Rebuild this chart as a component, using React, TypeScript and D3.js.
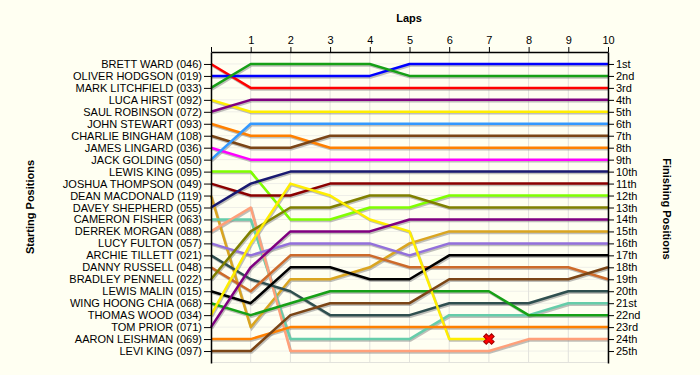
import React, { useEffect, useRef } from 'react';
import * as d3 from 'd3';

const width = 700;
const height = 375;

// laps along the top axis (0 = grid)
const laps = [0, 1, 2, 3, 4, 5, 6, 7, 8, 9, 10];

// drivers in starting order
const drivers = [
  'BRETT WARD (046)', 'OLIVER HODGSON (019)', 'MARK LITCHFIELD (033)', 'LUCA HIRST (092)',
  'SAUL ROBINSON (072)', 'JOHN STEWART (093)', 'CHARLIE BINGHAM (108)', 'JAMES LINGARD (036)',
  'JACK GOLDING (050)', 'LEWIS KING (095)', 'JOSHUA THOMPSON (049)', 'DEAN MACDONALD (119)',
  'DAVEY SHEPHERD (055)', 'CAMERON FISHER (063)', 'DERREK MORGAN (088)', 'LUCY FULTON (057)',
  'ARCHIE TILLETT (021)', 'DANNY RUSSELL (048)', 'BRADLEY PENNELL (022)', 'LEWIS MALIN (015)',
  'WING HOONG CHIA (068)', 'THOMAS WOOD (034)', 'TOM PRIOR (071)', 'AARON LEISHMAN (069)',
  'LEVI KING (097)'
];

// position of each driver at the end of every lap (index 0 = start)
const positions = [
  [1, 3, 3, 3, 3, 3, 3, 3, 3, 3, 3],
  [2, 2, 2, 2, 2, 1, 1, 1, 1, 1, 1],
  [3, 1, 1, 1, 1, 2, 2, 2, 2, 2, 2],
  [4, 5, 5, 5, 5, 5, 5, 5, 5, 5, 5],
  [5, 4, 4, 4, 4, 4, 4, 4, 4, 4, 4],
  [6, 7, 7, 8, 8, 8, 8, 8, 8, 8, 8],
  [7, 8, 8, 7, 7, 7, 7, 7, 7, 7, 7],
  [8, 9, 9, 9, 9, 9, 9, 9, 9, 9, 9],
  [9, 6, 6, 6, 6, 6, 6, 6, 6, 6, 6],
  [10, 10, 14, 14, 13, 13, 12, 12, 12, 12, 12],
  [11, 12, 12, 11, 11, 11, 11, 11, 11, 11, 11],
  [12, 23, 19, 19, 18, 16, 15, 15, 15, 15, 15],
  [13, 11, 10, 10, 10, 10, 10, 10, 10, 10, 10],
  [14, 14, 24, 24, 24, 24, 22, 22, 22, 21, 21],
  [15, 13, 25, 25, 25, 25, 25, 25, 24, 24, 24],
  [16, 17, 16, 16, 16, 17, 16, 16, 16, 16, 16],
  [17, 19, 20, 22, 22, 22, 21, 21, 21, 20, 20],
  [18, 20, 17, 17, 17, 18, 18, 18, 18, 18, 19],
  [19, 15, 13, 13, 12, 12, 13, 13, 13, 13, 13],
  [20, 21, 18, 18, 19, 19, 17, 17, 17, 17, 17],
  [21, 22, 21, 20, 20, 20, 20, 20, 22, 22, 22],
  [22, 16, 11, 12, 14, 15, 24, 24],
  [23, 18, 15, 15, 15, 14, 14, 14, 14, 14, 14],
  [24, 24, 23, 23, 23, 23, 23, 23, 23, 23, 23],
  [25, 25, 22, 21, 21, 21, 19, 19, 19, 19, 18]
];

const finishLabels = [
  '1st', '2nd', '3rd', '4th', '5th', '6th', '7th', '8th', '9th', '10th', '11th', '12th', '13th',
  '14th', '15th', '16th', '17th', '18th', '19th', '20th', '21st', '22nd', '23rd', '24th', '25th'
];

const colors = [
  '#ff0000', '#0000ff', '#16a016', '#ffee00', '#800080', '#ff8000', '#7b4515', '#ff00ff',
  '#3399ff', '#80ff00', '#8b0000', '#daa520', '#191970', '#66cdaa', '#ffa07a', '#9370db',
  '#2f4f4f', '#cd6a2a', '#808000', '#000000', '#16a016', '#ffee00', '#800080', '#ff8000',
  '#7b4515'
];

const font = '"Liberation Sans", Arial, sans-serif';

export default function App() {
  const ref = useRef<SVGSVGElement>(null);

  useEffect(() => {
    const svg = d3.select(ref.current);
    svg.selectAll('*').remove();

    const x = d3.scaleLinear().domain([0, 10]).range([211, 608]);
    const y = d3.scaleLinear().domain([0, 26]).range([52, 363]);
    const ranks = d3.range(1, drivers.length + 1);

    svg.append('rect').attr('width', width).attr('height', height).attr('fill', '#fffff2');

    // grid
    const grid = svg.append('g');
    grid.selectAll('.hg').data(ranks).enter().append('line')
      .attr('x1', x(0)).attr('x2', x(10))
      .attr('y1', (d) => y(d)).attr('y2', (d) => y(d))
      .attr('stroke', '#efefe8').attr('stroke-width', 1);
    grid.selectAll('.vg').data(laps.slice(1)).enter().append('line')
      .attr('x1', (d) => x(d)).attr('x2', (d) => x(d))
      .attr('y1', y(0)).attr('y2', y(26))
      .attr('stroke', '#e2e2dc').attr('stroke-width', 1);
    grid.append('line')
      .attr('x1', x(0)).attr('x2', x(10)).attr('y1', y(26) - 0.5).attr('y2', y(26) - 0.5)
      .attr('stroke', '#e2e2dc');

    const line = d3.line<number>().x((d, i) => x(laps[i])).y((d) => y(d));

    // shadows
    svg.append('g').selectAll('path').data(positions).enter().append('path')
      .attr('d', (d) => line(d))
      .attr('transform', 'translate(1,1.5)')
      .attr('fill', 'none')
      .attr('stroke', '#8a8a8a')
      .attr('stroke-opacity', 0.55)
      .attr('stroke-width', 2.5);

    svg.append('g').selectAll('path').data(positions).enter().append('path')
      .attr('d', (d) => line(d))
      .attr('fill', 'none')
      .attr('stroke', (d, i) => colors[i])
      .attr('stroke-width', 2.5)
      .attr('stroke-linejoin', 'round');

    // retirement marker
    positions.forEach((p, i) => {
      if (p.length < laps.length) {
        const last = p.length - 1;
        svg.append('path')
          .attr('d', d3.symbol().type(d3.symbolCross).size(70)())
          .attr('transform', `translate(${x(laps[last])},${y(p[last])}) rotate(45)`)
          .attr('fill', '#ff0000')
          .attr('stroke', '#a00000')
          .attr('stroke-width', 1);
      }
    });

    // axes
    const left = svg.append('g').attr('transform', `translate(${x(0)},0)`)
      .call(d3.axisLeft(y).tickValues(ranks).tickFormat((d) => drivers[+d - 1])
        .tickSize(7).tickSizeOuter(0).tickPadding(2));
    const right = svg.append('g').attr('transform', `translate(${x(10)},0)`)
      .call(d3.axisRight(y).tickValues(ranks).tickFormat((d) => finishLabels[+d - 1])
        .tickSize(6).tickSizeOuter(0).tickPadding(2));
    const top = svg.append('g').attr('transform', `translate(0,${y(0)})`)
      .call(d3.axisTop(x).tickValues(laps).tickFormat((d) => (+d === 0 ? '' : String(d)))
        .tickSize(5).tickSizeOuter(0).tickPadding(3));

    [left, right, top].forEach((g) => {
      g.selectAll('text').attr('font-family', font).attr('font-size', 11).attr('fill', '#000');
      g.selectAll('line').attr('stroke', '#000');
      g.select('.domain').attr('stroke', '#000').attr('stroke-width', 1.5);
    });

    // titles
    svg.append('text').attr('x', 409).attr('y', 22).attr('text-anchor', 'middle')
      .attr('font-family', font).attr('font-size', 11).attr('font-weight', 'bold').text('Laps');
    svg.append('text').attr('transform', 'translate(34,207) rotate(-90)').attr('text-anchor', 'middle')
      .attr('font-family', font).attr('font-size', 11).attr('font-weight', 'bold').text('Starting Positions');
    svg.append('text').attr('transform', 'translate(663,209) rotate(90)').attr('text-anchor', 'middle')
      .attr('font-family', font).attr('font-size', 11).attr('font-weight', 'bold').text('Finishing Positions');
  }, []);

  return (
    <svg ref={ref} width={width} height={height}
      style={{ position: 'absolute', left: 0, top: 0, display: 'block' }} />
  );
}
